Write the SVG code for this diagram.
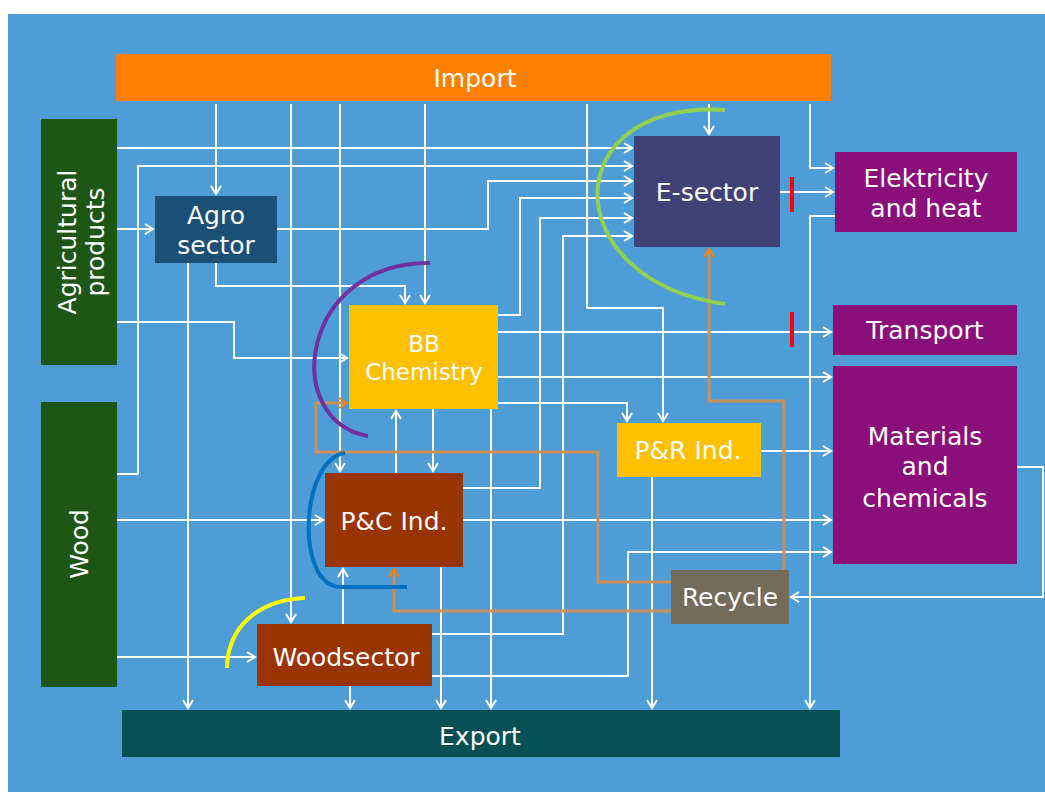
<svg xmlns="http://www.w3.org/2000/svg" width="1045" height="792" viewBox="0 0 1045 792">
<style>
.t{font-family:"DejaVu Sans","Liberation Sans",sans-serif;font-size:25px;fill:#fff;text-anchor:middle}
.s{font-size:23px}
.w{fill:none;stroke:#fff;stroke-width:2;marker-end:url(#a)}
.o{fill:none;stroke:#C98F55;stroke-width:3;marker-end:url(#ao)}
</style>
<defs>
<marker id="a" viewBox="-10 -7 12 14" refX="0" refY="0" markerWidth="12" markerHeight="14" markerUnits="userSpaceOnUse" orient="auto"><path d="M-8,-5 L0,0 L-8,5" fill="none" stroke="#fff" stroke-width="2"/></marker>
<marker id="ao" viewBox="-10 -7 12 14" refX="0" refY="0" markerWidth="12" markerHeight="14" markerUnits="userSpaceOnUse" orient="auto"><path d="M-8,-5 L0,0 L-8,5" fill="none" stroke="#FF8000" stroke-width="2"/></marker>
</defs>
<rect x="0" y="0" width="1045" height="792" fill="#fff"/>
<rect x="8" y="14" width="1037" height="778" fill="#4F9DD6"/>

<g id="connectors">
<path class="w" d="M216,104 V194"/>
<path class="w" d="M291,104 V622"/>
<path class="w" d="M340,104 V471"/>
<path class="w" d="M425,104 V303"/>
<path class="w" d="M587,104 V308 H663 V421"/>
<path class="w" d="M709,104 V134"/>
<path class="w" d="M810,104 V168 H833"/>
<path class="w" d="M117,148 H632"/>
<path class="w" d="M117,474 H138 V166 H632"/>
<path class="w" d="M117,229 H153"/>
<path class="w" d="M117,322 H234 V358 H347"/>
<path class="w" d="M117,520 H323"/>
<path class="w" d="M117,657 H255"/>
<path class="w" d="M277,229 H488 V181 H632"/>
<path class="w" d="M216,263 V286 H405 V303"/>
<path class="w" d="M188,263 V708"/>
<path class="w" d="M498,315 H520 V198 H632"/>
<path class="w" d="M463,488 H540 V218 H632"/>
<path class="w" d="M432,634 H563 V236 H632"/>
<path class="w" d="M780,192 H833"/>
<path class="w" d="M835,216 H810 V708"/>
<path class="w" d="M498,332 H831"/>
<path class="w" d="M498,377 H831"/>
<path class="w" d="M498,403 H627 V421"/>
<path class="w" d="M433,409 V471"/>
<path class="w" d="M491,409 V708"/>
<path class="w" d="M396,473 V411"/>
<path class="w" d="M463,520 H831"/>
<path class="w" d="M441,567 V708"/>
<path class="w" d="M343,624 V569"/>
<path class="w" d="M350,686 V708"/>
<path class="w" d="M432,676 H628 V552 H831"/>
<path class="w" d="M761,451 H831"/>
<path class="w" d="M652,477 V708"/>
<path class="w" d="M1017,467 H1043 V597 H791"/>
<path class="o" d="M784,570 V401 H709 V249"/>
<path class="o" d="M671,582 H598 V452 H316 V403 H347"/>
<path class="o" d="M671,611 H394 V569"/>
<path d="M792,177 V212" stroke="#FF0000" stroke-width="4"/>
<path d="M792,312 V347" stroke="#FF0000" stroke-width="4"/>
</g>

<g id="import"><rect x="116" y="54" width="715" height="47" fill="#FF7F00"/><text class="t" x="475" y="87">Import</text></g>
<g id="agri"><rect x="41" y="119" width="76" height="246" fill="#1E5618"/><text class="t" transform="translate(79,242) rotate(-90)"><tspan x="0" y="-3">Agricultural</tspan><tspan x="0" y="25">products</tspan></text></g>
<g id="wood"><rect x="41" y="402" width="76" height="285" fill="#1E5618"/><text class="t" transform="translate(79,544) rotate(-90)" x="0" y="9">Wood</text></g>
<g id="agro"><rect x="155" y="196" width="122" height="67" fill="#1C4F75"/><text class="t" x="216" y="224">Agro</text><text class="t" x="216" y="254">sector</text></g>
<g id="esector"><rect x="634" y="136" width="146" height="111" fill="#3F4275"/><text class="t" x="707" y="201">E-sector</text></g>
<g id="elek"><rect x="835" y="152" width="182" height="80" fill="#8B0F7A"/><text class="t" x="926" y="187">Elektricity</text><text class="t" x="926" y="217">and heat</text></g>
<g id="transport"><rect x="833" y="305" width="184" height="50" fill="#8B0F7A"/><text class="t" x="925" y="339">Transport</text></g>
<g id="materials"><rect x="833" y="366" width="184" height="198" fill="#8B0F7A"/><text class="t" x="925" y="445">Materials</text><text class="t" x="925" y="475">and</text><text class="t" x="925" y="507">chemicals</text></g>
<g id="bb"><rect x="349" y="305" width="149" height="104" fill="#FFC000"/><text class="t s" x="424" y="352">BB</text><text class="t s" x="424" y="380">Chemistry</text></g>
<g id="pr"><rect x="617" y="423" width="144" height="54" fill="#FFC000"/><text class="t" x="688" y="459">P&amp;R Ind.</text></g>
<g id="pc"><rect x="325" y="473" width="138" height="94" fill="#993300"/><text class="t" x="394" y="530">P&amp;C Ind.</text></g>
<g id="recycle"><rect x="671" y="570" width="118" height="54" fill="#746B5A"/><text class="t" x="730" y="606">Recycle</text></g>
<g id="woodsector"><rect x="257" y="624" width="175" height="62" fill="#993300"/><text class="t" x="346" y="666">Woodsector</text></g>
<g id="export"><rect x="122" y="710" width="718" height="47" fill="#064F55"/><text class="t" x="480" y="745">Export</text></g>

<g id="arcs" fill="none">
<path d="M725,110 C555,100 555,280 725,304" stroke="#92D050" stroke-width="4"/>
<path d="M430,263 C300,262 280,420 368,436" stroke="#7030A0" stroke-width="4"/>
<path d="M345,453 C300,460 295,585 340,587 L407,587" stroke="#0070C0" stroke-width="4"/>
<path d="M227,668 C228,625 260,600 305,598" stroke="#FFFF00" stroke-width="4"/>
</g>
</svg>
